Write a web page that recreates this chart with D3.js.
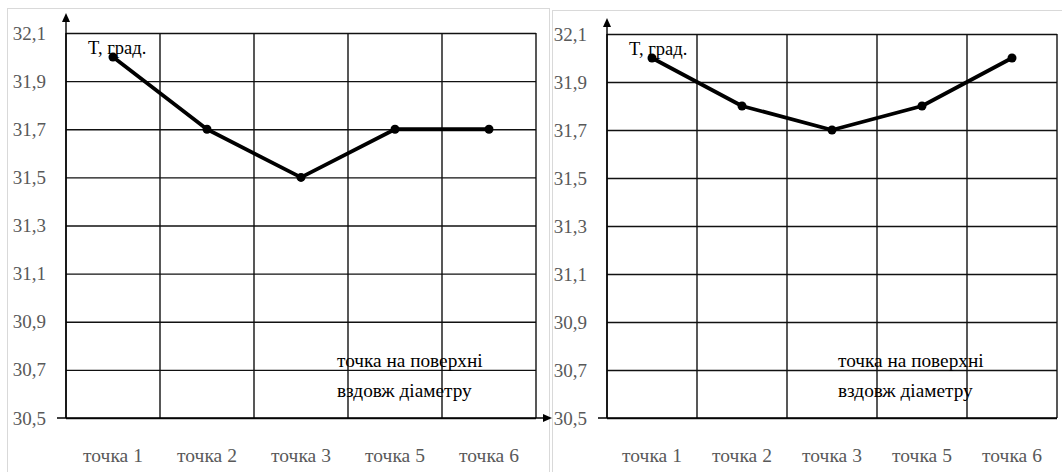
<!DOCTYPE html>
<html>
<head>
<meta charset="utf-8">
<script src="https://cdn.jsdelivr.net/npm/d3@7"></script>
<style>
    body { margin: 0; background: #fff; }
    svg { display: block; }
</style>
</head>
<body>
<script>
// --- data ---
var categories = ["точка 1", "точка 2", "точка 3", "точка 5", "точка 6"];
var leftValues = [32.0, 31.7, 31.5, 31.7, 31.7];
var rightValues = [32.0, 31.8, 31.7, 31.8, 32.0];
var yTicks = [30.5, 30.7, 30.9, 31.1, 31.3, 31.5, 31.7, 31.9, 32.1];
var yTitle = "T, град.";
var xTitle = ["точка на поверхні", "вздовж діаметру"];

// --- styles ---
var fontFamily = "'Liberation Serif'";
var labelColor = "#595959";
var gridColor = "#111";
var frameColor = "#d9d9d9";

var w = 1062, h = 472;

var svg = d3.select("body").append("svg")
    .attr("width", w)
    .attr("height", h);

// panel frames
svg.append("rect").attr("x", 7.5).attr("y", 8.5).attr("width", 542).attr("height", 480)
    .attr("fill", "none").attr("stroke", frameColor);
svg.append("rect").attr("x", 552.5).attr("y", 10.5).attr("width", 520).attr("height", 480)
    .attr("fill", "none").attr("stroke", frameColor);

drawPanel(leftValues, {left: 66, right: 536, top: 33, bottom: 418, arrowTop: 13, arrowRight: 552, xTextX: 337});
drawPanel(rightValues, {left: 607, right: 1057, top: 34, bottom: 418, arrowTop: 18, arrowRight: null, xTextX: 838});

function drawPanel(values, p) {
    var g = svg.append("g");

    var x = d3.scaleBand()
        .domain(categories)
        .range([p.left, p.right]);
    var y = d3.scaleLinear()
        .domain([yTicks[0], yTicks[yTicks.length - 1]])
        .range([p.bottom, p.top]);

    // horizontal grid
    g.append("g")
        .attr("transform", "translate(" + p.left + ",0)")
        .call(d3.axisRight(y).tickValues(yTicks).tickSize(p.right - p.left).tickFormat(""))
        .call(function (s) {
            s.select(".domain").remove();
            s.selectAll("line").attr("stroke", gridColor).attr("stroke-width", 1.4);
        });

    // vertical grid at band edges
    var edges = categories.map(function (c) { return x(c); }).concat([p.right]);
    g.selectAll("line.vgrid").data(edges).enter().append("line")
        .attr("class", "vgrid")
        .attr("x1", function (d) { return d; })
        .attr("x2", function (d) { return d; })
        .attr("y1", p.top)
        .attr("y2", p.bottom)
        .attr("stroke", gridColor)
        .attr("stroke-width", 1.4);

    // y axis labels
    g.append("g")
        .attr("transform", "translate(" + (p.left - 17) + ",0)")
        .call(d3.axisLeft(y).tickValues(yTicks).tickSize(0)
            .tickFormat(function (d) { return d.toFixed(1).replace(".", ","); }))
        .call(function (s) {
            s.select(".domain").remove();
            s.selectAll("text")
                .style("font-family", fontFamily)
                .attr("font-size", 19)
                .attr("fill", labelColor)
                .attr("dx", 0);
        });

    // x axis labels
    g.append("g")
        .attr("transform", "translate(0," + (p.bottom + 27) + ")")
        .call(d3.axisBottom(x).tickSize(0))
        .call(function (s) {
            s.select(".domain").remove();
            s.selectAll("text")
                .style("font-family", fontFamily)
                .attr("font-size", 19.5)
                .attr("fill", labelColor);
        });

    // y axis with arrow
    g.append("line")
        .attr("x1", p.left).attr("x2", p.left)
        .attr("y1", p.bottom).attr("y2", p.arrowTop + 6)
        .attr("stroke", "#000").attr("stroke-width", 1.4);
    g.append("path")
        .attr("d", "M" + p.left + "," + p.arrowTop + "l-4,9h8z")
        .attr("fill", "#000");

    // x axis line (slight overhang to the left)
    var xEnd = p.arrowRight ? p.arrowRight - 6 : p.right;
    g.append("line")
        .attr("x1", p.left - 9).attr("x2", xEnd)
        .attr("y1", p.bottom).attr("y2", p.bottom)
        .attr("stroke", "#000").attr("stroke-width", 1.4);
    if (p.arrowRight) {
        g.append("path")
            .attr("d", "M" + p.arrowRight + "," + p.bottom + "l-9,-4v8z")
            .attr("fill", "#000");
    }

    // data line
    var line = d3.line()
        .x(function (d, i) { return x(categories[i]) + x.bandwidth() / 2; })
        .y(function (d) { return y(d); });
    g.append("path")
        .datum(values)
        .attr("fill", "none")
        .attr("stroke", "#000")
        .attr("stroke-width", 3.8)
        .attr("stroke-linejoin", "round")
        .attr("d", line);
    g.selectAll("circle").data(values).enter().append("circle")
        .attr("cx", function (d, i) { return x(categories[i]) + x.bandwidth() / 2; })
        .attr("cy", function (d) { return y(d); })
        .attr("r", 4.5)
        .attr("fill", "#000");

    // titles
    g.append("text")
        .attr("x", p.left + 22)
        .attr("y", p.top + 20.5)
        .style("font-family", fontFamily)
        .attr("font-size", 18.5)
        .attr("fill", "#000")
        .text(yTitle);
    g.selectAll("text.xtitle").data(xTitle).enter().append("text")
        .attr("class", "xtitle")
        .attr("x", p.xTextX)
        .attr("y", function (d, i) { return 367 + i * 30; })
        .style("font-family", fontFamily)
        .attr("font-size", 19.3)
        .attr("fill", "#000")
        .text(function (d) { return d; });
}
</script>
</body>
</html>
